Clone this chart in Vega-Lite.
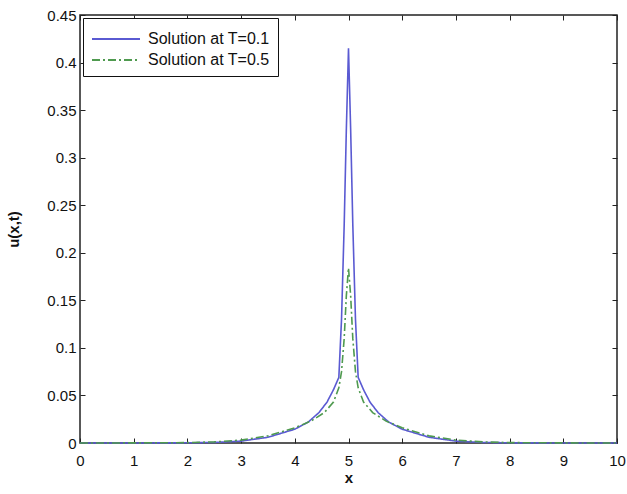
{
  "$schema": "https://vega.github.io/schema/vega-lite/v6.json",
  "width": 537,
  "height": 428,
  "autosize": "none",
  "padding": {"left": 80, "top": 15, "right": 10, "bottom": 51},
  "background": "white",
  "config": {
    "view": {"stroke": "#222", "strokeWidth": 1.5},
    "font": "Liberation Sans",
    "axis": {"grid": false, "domain": false, "tickColor": "#222", "tickSize": -5, "labelColor": "#111", "labelFontSize": 15, "titleFontSize": 15, "titleFontWeight": "bold", "titleColor": "#111", "labelExpr": "datum.value + ''"}
  },
  "data": {"values": [
    {"x": 0, "u": 0, "s": "Solution at T=0.1"},
    {"x": 1, "u": 0, "s": "Solution at T=0.1"},
    {"x": 2, "u": 0.0002, "s": "Solution at T=0.1"},
    {"x": 2.5, "u": 0.0006, "s": "Solution at T=0.1"},
    {"x": 3, "u": 0.002, "s": "Solution at T=0.1"},
    {"x": 3.5, "u": 0.006, "s": "Solution at T=0.1"},
    {"x": 4, "u": 0.0145, "s": "Solution at T=0.1"},
    {"x": 4.25, "u": 0.022, "s": "Solution at T=0.1"},
    {"x": 4.45, "u": 0.032, "s": "Solution at T=0.1"},
    {"x": 4.6, "u": 0.043, "s": "Solution at T=0.1"},
    {"x": 4.72, "u": 0.056, "s": "Solution at T=0.1"},
    {"x": 4.82, "u": 0.069, "s": "Solution at T=0.1"},
    {"x": 4.87, "u": 0.13, "s": "Solution at T=0.1"},
    {"x": 4.92, "u": 0.23, "s": "Solution at T=0.1"},
    {"x": 4.96, "u": 0.33, "s": "Solution at T=0.1"},
    {"x": 5.0, "u": 0.415, "s": "Solution at T=0.1"},
    {"x": 5.04, "u": 0.33, "s": "Solution at T=0.1"},
    {"x": 5.08, "u": 0.23, "s": "Solution at T=0.1"},
    {"x": 5.13, "u": 0.13, "s": "Solution at T=0.1"},
    {"x": 5.18, "u": 0.069, "s": "Solution at T=0.1"},
    {"x": 5.28, "u": 0.056, "s": "Solution at T=0.1"},
    {"x": 5.4, "u": 0.043, "s": "Solution at T=0.1"},
    {"x": 5.55, "u": 0.032, "s": "Solution at T=0.1"},
    {"x": 5.75, "u": 0.022, "s": "Solution at T=0.1"},
    {"x": 6, "u": 0.0145, "s": "Solution at T=0.1"},
    {"x": 6.5, "u": 0.006, "s": "Solution at T=0.1"},
    {"x": 7, "u": 0.002, "s": "Solution at T=0.1"},
    {"x": 7.5, "u": 0.0006, "s": "Solution at T=0.1"},
    {"x": 8, "u": 0.0002, "s": "Solution at T=0.1"},
    {"x": 9, "u": 0, "s": "Solution at T=0.1"},
    {"x": 10, "u": 0, "s": "Solution at T=0.1"},
    {"x": 0, "u": 0, "s": "Solution at T=0.5"},
    {"x": 1, "u": 0.0001, "s": "Solution at T=0.5"},
    {"x": 2, "u": 0.0004, "s": "Solution at T=0.5"},
    {"x": 2.5, "u": 0.0012, "s": "Solution at T=0.5"},
    {"x": 3, "u": 0.003, "s": "Solution at T=0.5"},
    {"x": 3.5, "u": 0.0075, "s": "Solution at T=0.5"},
    {"x": 4, "u": 0.016, "s": "Solution at T=0.5"},
    {"x": 4.3, "u": 0.023, "s": "Solution at T=0.5"},
    {"x": 4.55, "u": 0.032, "s": "Solution at T=0.5"},
    {"x": 4.72, "u": 0.043, "s": "Solution at T=0.5"},
    {"x": 4.82, "u": 0.058, "s": "Solution at T=0.5"},
    {"x": 4.87, "u": 0.075, "s": "Solution at T=0.5"},
    {"x": 4.92, "u": 0.11, "s": "Solution at T=0.5"},
    {"x": 4.96, "u": 0.155, "s": "Solution at T=0.5"},
    {"x": 5.0, "u": 0.184, "s": "Solution at T=0.5"},
    {"x": 5.04, "u": 0.155, "s": "Solution at T=0.5"},
    {"x": 5.08, "u": 0.11, "s": "Solution at T=0.5"},
    {"x": 5.13, "u": 0.075, "s": "Solution at T=0.5"},
    {"x": 5.18, "u": 0.058, "s": "Solution at T=0.5"},
    {"x": 5.28, "u": 0.043, "s": "Solution at T=0.5"},
    {"x": 5.45, "u": 0.032, "s": "Solution at T=0.5"},
    {"x": 5.7, "u": 0.023, "s": "Solution at T=0.5"},
    {"x": 6, "u": 0.016, "s": "Solution at T=0.5"},
    {"x": 6.5, "u": 0.0075, "s": "Solution at T=0.5"},
    {"x": 7, "u": 0.003, "s": "Solution at T=0.5"},
    {"x": 7.5, "u": 0.0012, "s": "Solution at T=0.5"},
    {"x": 8, "u": 0.0004, "s": "Solution at T=0.5"},
    {"x": 9, "u": 0.0001, "s": "Solution at T=0.5"},
    {"x": 10, "u": 0, "s": "Solution at T=0.5"}
  ]},
  "layer": [
    {
      "mark": {"type": "line", "strokeWidth": 1.6},
      "encoding": {
        "x": {"field": "x", "type": "quantitative", "scale": {"domain": [0, 10], "nice": false}, "axis": {"values": [0,1,2,3,4,5,6,7,8,9,10], "title": "x", "labelPadding": 15, "titlePadding": 2, "labelFlush": false}},
        "y": {"field": "u", "type": "quantitative", "scale": {"domain": [0, 0.45], "nice": false}, "axis": {"values": [0,0.05,0.1,0.15,0.2,0.25,0.3,0.35,0.4,0.45], "title": "u(x,t)", "labelPadding": 9, "titlePadding": 25, "labelFlush": false}},
        "color": {"field": "s", "type": "nominal", "scale": {"range": ["#5a5ad2", "#4f9a4f"]}, "legend": {"title": null, "orient": "top-left", "offset": 3, "strokeColor": "#111", "fillColor": "white", "padding": 8, "symbolType": "M-1,0H3", "symbolSize": 576, "symbolStrokeWidth": 2, "labelFontSize": 16, "labelOffset": 31, "labelColor": "#111", "rowPadding": -5}},
        "strokeDash": {"field": "s", "type": "nominal", "scale": {"range": [[1, 0], [8, 3, 2, 3]]}, "legend": null}
      }
    },
    {
      "mark": {"type": "line", "opacity": 0},
      "encoding": {
        "x": {"field": "x", "type": "quantitative", "scale": {"domain": [0, 10], "nice": false}, "axis": {"orient": "top", "values": [0,1,2,3,4,5,6,7,8,9,10], "labels": false, "title": null}},
        "y": {"field": "u", "type": "quantitative", "scale": {"domain": [0, 0.45], "nice": false}, "axis": {"orient": "right", "values": [0,0.05,0.1,0.15,0.2,0.25,0.3,0.35,0.4,0.45], "labels": false, "title": null}},
        "detail": {"field": "s", "type": "nominal"}
      }
    }
  ],
  "resolve": {"axis": {"x": "independent", "y": "independent"}}
}
